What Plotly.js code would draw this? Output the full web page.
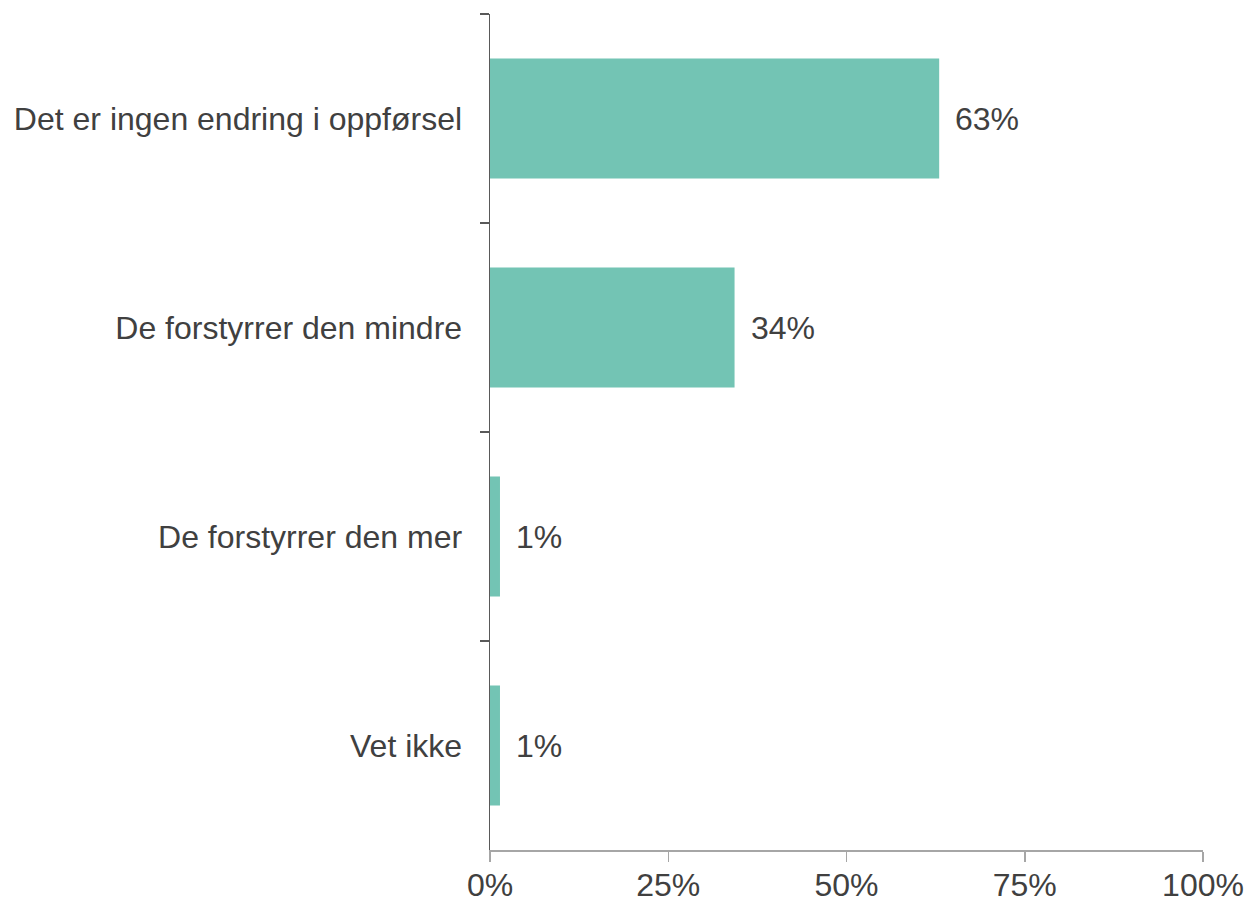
<!DOCTYPE html>
<html>
<head>
<meta charset="utf-8">
<script src="https://cdn.plot.ly/plotly-3.0.1.min.js"></script>
<style>html,body{margin:0;padding:0;background:#fff;}#chart{width:1250px;height:902px;}</style>
</head>
<body>
<div id="chart"></div>
<script>
const categories = ["Det er ingen endring i oppførsel", "De forstyrrer den mindre", "De forstyrrer den mer", "Vet ikke"];
const values = [63, 34.3, 1.4, 1.4];
const labels = ["63%", "34%", "1%", "1%"];
const xTickVals = [0, 25, 50, 75, 100];
const xTickText = ["0%", "25%", "50%", "75%", "100%"];

const textColor = "#404040";
const fontFam = "Liberation Sans, Arial, sans-serif";

const trace = {
  type: "bar",
  orientation: "h",
  x: values,
  y: categories,
  marker: {color: "#73C4B4"},
  hoverinfo: "none"
};

const annotations = categories.map((c, i) => ({
  x: values[i], y: c, xref: "x", yref: "y",
  text: labels[i], showarrow: false, xanchor: "left", yanchor: "middle",
  xshift: 14, font: {family: fontFam, size: 32, color: textColor}
}));

const layout = {
  width: 1250, height: 902,
  margin: {l: 490, r: 47, t: 14, b: 52, pad: 0},
  paper_bgcolor: "#fff", plot_bgcolor: "#fff",
  showlegend: false,
  bargap: 0.425,
  font: {family: fontFam, size: 32, color: textColor},
  xaxis: {
    range: [0, 100], tickvals: xTickVals, ticktext: xTickText,
    showgrid: false, zeroline: false,
    showline: true, linecolor: "#a6a6a6", linewidth: 1.5,
    ticks: "outside", ticklen: 10, tickcolor: "#a6a6a6", tickwidth: 1.5,
    ticklabelstandoff: -4,
    tickfont: {family: fontFam, size: 32, color: textColor},
    fixedrange: true
  },
  yaxis: {
    type: "category", categoryorder: "array", categoryarray: categories,
    autorange: "reversed",
    showgrid: false, zeroline: false,
    showline: true, linecolor: "#595959", linewidth: 1.5,
    ticks: "outside", ticklen: 9, tickcolor: "#595959", tickwidth: 1.5,
    tickson: "boundaries",
    ticklabelstandoff: 20,
    tickfont: {family: fontFam, size: 32, color: textColor},
    fixedrange: true
  },
  annotations: annotations
};

Plotly.newPlot("chart", [trace], layout, {displayModeBar: false, staticPlot: true});
</script>
</body>
</html>
